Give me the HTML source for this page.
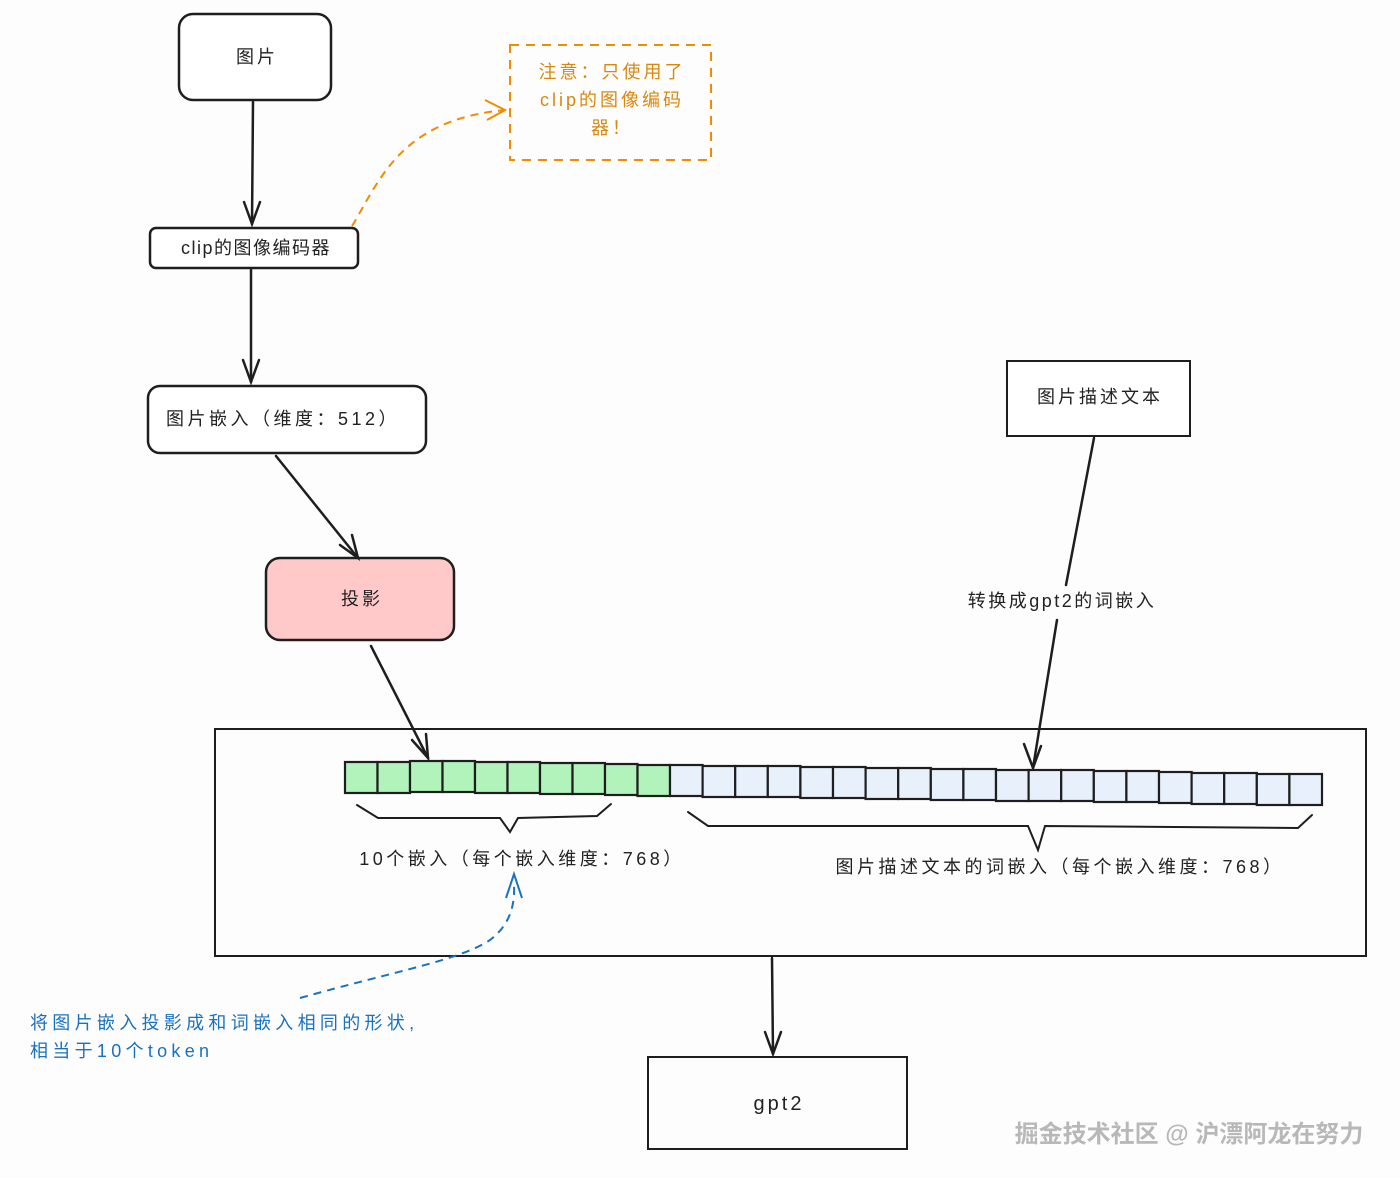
<!DOCTYPE html>
<html><head><meta charset="utf-8"><style>
html,body{margin:0;padding:0;background:#fff}
svg{display:block}
text{font-family:"Liberation Sans","Noto Sans CJK SC",sans-serif;fill:#222}
</style></head><body>
<svg width="1400" height="1178" viewBox="0 0 1400 1178" xmlns="http://www.w3.org/2000/svg">
<rect width="1400" height="1178" fill="#fdfdfd"/>
<g stroke="#1e1e1e" stroke-width="2.5" fill="none" stroke-linecap="round">
<rect x="179" y="14" width="152" height="86" rx="14" fill="#fff"/>
<rect x="150" y="228" width="208" height="40" rx="6" fill="#fff"/>
<rect x="148" y="386" width="278" height="67" rx="12" fill="#fff"/>
<rect x="266" y="558" width="188" height="82" rx="14" fill="#ffc9c9"/>
<rect x="1007" y="361" width="183" height="75" fill="#fff" stroke-width="2"/>
<rect x="215" y="729" width="1151" height="227" stroke-width="2"/>
<rect x="648" y="1057" width="259" height="92" stroke-width="2"/>
<path d="M253 102 L252 224"/><path d="M244 202 L252 224 L260 202"/>
<path d="M251 270 L251 382"/><path d="M243 360 L251 382 L259 360"/>
<path d="M276 456 L358 558"/><path d="M340 545 L358 558 L352 535"/>
<path d="M371 646 L428 758"/><path d="M412 740 L428 758 L426 734"/>
<path d="M1094 438 L1066 585"/><path d="M1057 620 L1033 768"/><path d="M1024 744 L1033 768 L1041 746"/>
<path d="M772 958 L773 1054"/><path d="M765 1032 L773 1054 L781 1032"/>
<path d="M357 805 L378 818 L500 818 L510 832 L518 818 L597 816 L611 804" stroke-width="2"/>
<path d="M688 812 L708 826 L1028 826 L1038 850 L1045 826 L1298 828 L1312 815" stroke-width="2"/>
</g>
<g stroke="#1e1e1e" stroke-width="2.2">
<rect x="345" y="762" width="32.5" height="31" fill="#b2f2bb"/>
<rect x="377.5" y="762" width="32.5" height="31" fill="#b2f2bb"/>
<rect x="410" y="761" width="32.5" height="31" fill="#b2f2bb"/>
<rect x="442.5" y="761" width="32.5" height="31" fill="#b2f2bb"/>
<rect x="475" y="762" width="32.5" height="31" fill="#b2f2bb"/>
<rect x="507.5" y="762" width="32.5" height="31" fill="#b2f2bb"/>
<rect x="540" y="763" width="32.5" height="31" fill="#b2f2bb"/>
<rect x="572.5" y="763" width="32.5" height="31" fill="#b2f2bb"/>
<rect x="605" y="764" width="32.5" height="31" fill="#b2f2bb"/>
<rect x="637.5" y="765" width="32.5" height="31" fill="#b2f2bb"/>
</g>
<g stroke="#1e1e1e" stroke-width="2.2" fill="#e7f0fb">
<rect x="670" y="765" width="32.6" height="31"/><rect x="702.6" y="766" width="32.6" height="31"/>
<rect x="735.2" y="766" width="32.6" height="31"/><rect x="767.8" y="766" width="32.6" height="31"/>
<rect x="800.4" y="767" width="32.6" height="31"/><rect x="833" y="767" width="32.6" height="31"/>
<rect x="865.6" y="768" width="32.6" height="31"/><rect x="898.2" y="768" width="32.6" height="31"/>
<rect x="930.8" y="769" width="32.6" height="31"/><rect x="963.4" y="769" width="32.6" height="31"/>
<rect x="996" y="770" width="32.6" height="31"/><rect x="1028.6" y="770" width="32.6" height="31"/>
<rect x="1061.2" y="770" width="32.6" height="31"/><rect x="1093.8" y="771" width="32.6" height="31"/>
<rect x="1126.4" y="771" width="32.6" height="31"/><rect x="1159" y="772" width="32.6" height="31"/>
<rect x="1191.6" y="773" width="32.6" height="31"/><rect x="1224.2" y="773" width="32.6" height="31"/>
<rect x="1256.8" y="774" width="32.6" height="31"/><rect x="1289.4" y="774" width="32.6" height="31"/>
</g>
<rect x="510" y="45" width="201" height="115" fill="none" stroke="#f08c00" stroke-width="2" stroke-dasharray="9 7"/>
<path d="M352 226 C380 180 400 120 505 110" fill="none" stroke="#f08c00" stroke-width="2" stroke-dasharray="8 6"/>
<path d="M485 100 L505 110 L487 120" fill="none" stroke="#f08c00" stroke-width="2"/>
<g font-size="18" text-anchor="middle" letter-spacing="3">
<text x="612" y="78" style="fill:#d9880f">注意：只使用了</text>
<text x="612" y="106" style="fill:#d9880f">clip的图像编码</text>
<text x="612" y="134" style="fill:#d9880f">器！</text>
</g>
<path d="M300 998 C400 970 460 960 490 940 C510 925 515 905 514 885" fill="none" stroke="#1971c2" stroke-width="2" stroke-dasharray="8 6"/>
<path d="M506 898 L514 874 L522 898" fill="none" stroke="#1971c2" stroke-width="2"/>
<text x="30" y="1029" font-size="18" letter-spacing="4.3" style="fill:#1971c2">将图片嵌入投影成和词嵌入相同的形状,</text>
<text x="30" y="1057" font-size="18" letter-spacing="4.3" style="fill:#1971c2">相当于10个token</text>
<g font-size="18" text-anchor="middle" letter-spacing="3">
<text x="257" y="63">图片</text>
<text x="256" y="254" letter-spacing="1.5">clip的图像编码器</text>
<text x="283" y="425" letter-spacing="3.5">图片嵌入（维度：512）</text>
<text x="362" y="605">投影</text>
<text x="1100" y="403">图片描述文本</text>
<text x="1062" y="607" letter-spacing="2.5">转换成gpt2的词嵌入</text>
<text x="522" y="865" letter-spacing="3.5">10个嵌入（每个嵌入维度：768）</text>
<text x="1060" y="873" letter-spacing="3.5">图片描述文本的词嵌入（每个嵌入维度：768）</text>
<text x="779" y="1110" font-size="20">gpt2</text>
</g>
<text x="1189" y="1142" font-size="24" font-weight="bold" text-anchor="middle" style="fill:#b8b8b8">掘金技术社区 @ 沪漂阿龙在努力</text>
</svg>
</body></html>
